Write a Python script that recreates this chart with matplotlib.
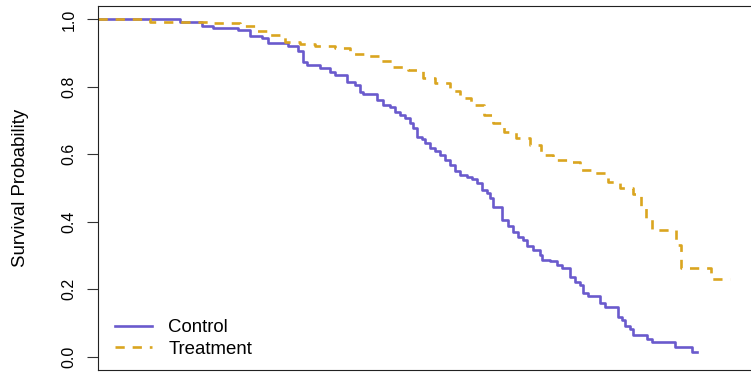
import matplotlib
matplotlib.use("Agg")
import matplotlib.pyplot as plt

plt.rcParams["font.family"] = ["Liberation Sans", "DejaVu Sans"]

# Kaplan-Meier estimates: event times (days) and survival just after each event
control_times = [0, 82, 104, 115, 140, 152, 164, 170, 190, 200, 205, 209, 222, 232,
                 237, 249, 257, 262, 265, 279, 285, 292, 297, 302, 307, 312, 315,
                 319, 324, 327, 332, 337, 342, 347, 352, 357, 362, 369, 374, 379,
                 384, 389, 392, 395, 404, 410, 415, 420, 425, 429, 435, 442, 444,
                 452, 459, 464, 472, 477, 482, 485, 490, 502, 507, 520, 524, 527,
                 532, 535, 549, 554, 577, 594, 599]
control_surv = [1.0, 0.994, 0.980, 0.975, 0.970, 0.950, 0.945, 0.930, 0.920, 0.906,
                0.875, 0.866, 0.857, 0.845, 0.836, 0.815, 0.807, 0.786, 0.779, 0.762,
                0.747, 0.741, 0.726, 0.717, 0.708, 0.693, 0.679, 0.652, 0.646, 0.634,
                0.619, 0.610, 0.598, 0.583, 0.568, 0.551, 0.539, 0.533, 0.527, 0.515,
                0.494, 0.485, 0.470, 0.443, 0.405, 0.387, 0.369, 0.354, 0.345, 0.327,
                0.315, 0.301, 0.286, 0.283, 0.271, 0.262, 0.235, 0.220, 0.211, 0.188,
                0.179, 0.158, 0.146, 0.116, 0.107, 0.092, 0.083, 0.063, 0.051, 0.042,
                0.027, 0.012, 0.012]

treatment_times = [0, 52, 112, 142, 157, 172, 187, 202, 217, 237, 252, 267, 282, 295,
                   310, 325, 337, 352, 362, 373, 386, 395, 406, 418, 432, 443, 455,
                   470, 482, 495, 510, 522, 535, 543, 548, 554, 578, 583, 613, 632]
treatment_surv = [1.0, 0.994, 0.990, 0.980, 0.965, 0.955, 0.932, 0.926, 0.920, 0.915,
                  0.899, 0.891, 0.876, 0.859, 0.849, 0.826, 0.812, 0.787, 0.767, 0.747,
                  0.717, 0.694, 0.667, 0.649, 0.628, 0.598, 0.583, 0.577, 0.554, 0.545,
                  0.518, 0.500, 0.482, 0.443, 0.408, 0.375, 0.330, 0.262, 0.229, 0.229]

group_labels = ["Control", "Treatment"]
y_ticks = [0.0, 0.2, 0.4, 0.6, 0.8, 1.0]
y_tick_labels = ["0.0", "0.2", "0.4", "0.6", "0.8", "1.0"]

control_color = "#6A5ACD"
treatment_color = "#DAA520"

W, H = 751, 372
fig = plt.figure(figsize=(W / 100, H / 100), dpi=100)
left, right, top, bottom = 98, 754, 6, 370
ax = fig.add_axes([left / W, (H - bottom) / H, (right - left) / W, (bottom - top) / H])

lw = 1.9
ax.step(control_times, control_surv, where="post", color=control_color, lw=lw,
        label=group_labels[0])
ax.step(treatment_times, treatment_surv, where="post", color=treatment_color, lw=lw,
        dashes=(3.5, 3.0), label=group_labels[1])

ax.set_xlim(0, 656)
ax.set_ylim(-0.04, 1.04)
ax.set_xticks([])
ax.set_yticks(y_ticks)
ax.set_yticklabels(y_tick_labels, rotation=90, va="center", fontsize=11.5)
ax.tick_params(axis="y", length=8, width=0.8, pad=7.5, color="#333333")
for s in ax.spines.values():
    s.set_linewidth(0.8)
    s.set_color("#222222")

ax.set_ylabel("Survival Probability", fontsize=13.4)
ax.yaxis.set_label_coords((29 - left) / (right - left), 0.5)

leg = ax.legend(loc="lower left", bbox_to_anchor=(0.026, 0.033), frameon=False,
                fontsize=13.4, handlelength=2.0, handletextpad=0.86, labelspacing=0.25,
                borderpad=0, borderaxespad=0)

fig.savefig("out.png", dpi=100)
